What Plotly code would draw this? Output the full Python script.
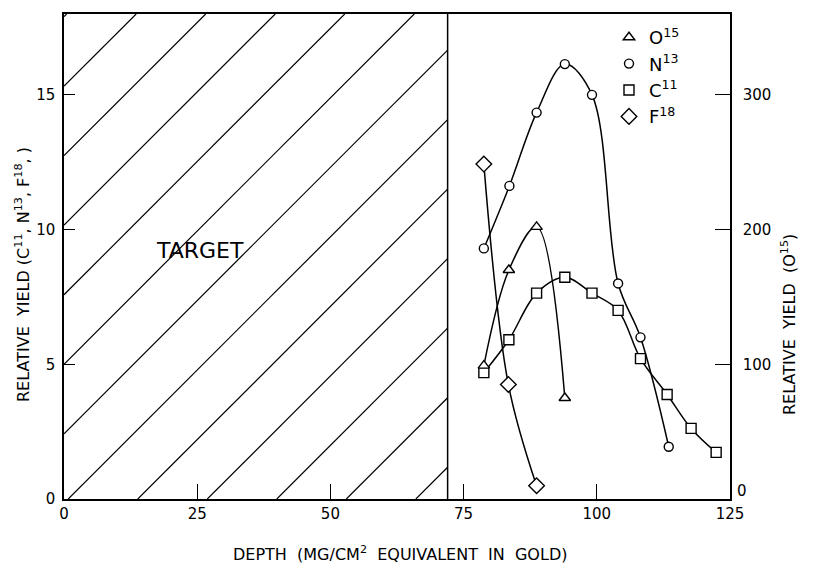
import plotly.graph_objects as go

# ---- data ----
o15_x = [78.8, 83.5, 88.7, 94.0]
o15_y = [99, 170, 202, 75]

n13_x = [78.8, 83.6, 88.7, 94.0, 99.1, 104.0, 108.2, 113.5]
n13_y = [9.30, 11.62, 14.34, 16.14, 15.0, 8.0, 6.0, 1.94]

c11_x = [78.8, 83.5, 88.7, 94.0, 99.1, 104.0, 108.2, 113.2, 117.7, 122.4]
c11_y = [4.69, 5.91, 7.64, 8.23, 7.64, 7.0, 5.21, 3.88, 2.62, 1.73]

f18_x = [78.8, 83.4, 88.7]
f18_y = [12.43, 4.25, 0.49]

x_ticks = [0, 25, 50, 75, 100, 125]
y_ticks = [0, 5, 10, 15]
y2_ticks = [100, 200, 300]
y2_zero_label = "0"
x_range = [0, 125]
y_range = [0, 18]
y2_range = [0, 360]
target_end = 72

FONT = "DejaVu Sans"
W, H = 816, 579
ML, MR, MT, MB = 64, 86, 14, 80
plot_w = W - ML - MR
plot_h = H - MT - MB


def px_to_paper(px, py):
    return (px - ML) / plot_w, (H - MB - py) / plot_h


fig = go.Figure()


def add_series(xs, ys, symbol, size, yaxis="y"):
    fig.add_trace(go.Scatter(
        x=xs, y=ys, mode="lines+markers", yaxis=yaxis, showlegend=False,
        line=dict(color="black", width=1.5, shape="spline", smoothing=1.0),
        marker=dict(symbol=symbol, size=size, color="white",
                    line=dict(color="black", width=1.4)),
        cliponaxis=False,
    ))


add_series(o15_x, o15_y, "triangle-up", 10, "y2")
add_series(n13_x, n13_y, "circle", 9)
add_series(c11_x, c11_y, "square", 10)
add_series(f18_x, f18_y, "diamond", 12)

# legend-only entries
for name, sym, sz in [("O<sup>15</sup>", "triangle-up", 10),
                      ("N<sup>13</sup>", "circle", 9),
                      ("C<sup>11</sup>", "square", 10),
                      ("F<sup>18</sup>", "diamond", 12)]:
    fig.add_trace(go.Scatter(
        x=[None], y=[None], mode="markers", name=name,
        marker=dict(symbol=sym, size=sz, color="white",
                    line=dict(color="black", width=1.4)),
    ))

# ---- target hatching (45 degree lines in pixel space) ----
px_per_x = plot_w / (x_range[1] - x_range[0])
px_per_y = plot_h / (y_range[1] - y_range[0])
m = px_per_x / px_per_y
spacing = 2.58
x0off = 0.8
shapes = []
for k in range(-8, 10):
    c = spacing * k - m * x0off  # y = m*x + c
    pts = []
    for xv in (0, target_end):
        yv = m * xv + c
        if y_range[0] <= yv <= y_range[1]:
            pts.append((xv, yv))
    for yv in (y_range[0], y_range[1]):
        xv = (yv - c) / m
        if 0 <= xv <= target_end:
            pts.append((xv, yv))
    pts = sorted(set(pts))
    if len(pts) >= 2:
        (xa, ya), (xb, yb) = pts[0], pts[-1]
        if abs(xa - xb) > 1e-6:
            shapes.append(dict(type="line", xref="x", yref="y", x0=xa, y0=ya,
                               x1=xb, y1=yb, line=dict(color="black", width=1.2),
                               layer="below"))
shapes.append(dict(type="line", xref="x", yref="y", x0=target_end, y0=y_range[0],
                   x1=target_end, y1=y_range[1], line=dict(color="black", width=1.5)))

axis_font = dict(family=FONT, size=15, color="black")
title_font = dict(family=FONT, size=16, color="black")

lx, ly = px_to_paper(609, 19)
xt_x, xt_y = px_to_paper(400, 553)
lt_x, lt_y = px_to_paper(22, 275)
rt_x, rt_y = px_to_paper(788, 325)
z_x, z_y = px_to_paper(742, 491)

fig.update_layout(
    width=W, height=H,
    margin=dict(l=ML, r=MR, t=MT, b=MB, pad=0),
    paper_bgcolor="white", plot_bgcolor="white",
    shapes=shapes,
    showlegend=True,
    legend=dict(x=lx, y=ly, xanchor="left", yanchor="top",
                font=dict(family=FONT, size=18, color="black"),
                bgcolor="rgba(0,0,0,0)", borderwidth=0, tracegroupgap=0),
    xaxis=dict(range=x_range, tickvals=x_ticks, ticks="inside", ticklen=15,
               tickwidth=1.3, tickcolor="black", showline=True, linecolor="black",
               linewidth=1.5, mirror=True, showgrid=False, zeroline=False,
               tickfont=axis_font),
    yaxis=dict(range=y_range, tickvals=y_ticks, ticks="inside", ticklen=11,
               tickwidth=1.3, tickcolor="black", showline=True, linecolor="black",
               linewidth=1.5, showgrid=False, zeroline=False, tickfont=axis_font,
               ticklabelstandoff=4),
    yaxis2=dict(range=y2_range, tickvals=y2_ticks, ticks="inside", ticklen=15,
                tickwidth=1.3, tickcolor="black", showline=True, linecolor="black",
                linewidth=1.5, showgrid=False, zeroline=False, overlaying="y",
                side="right", tickfont=axis_font, ticklabelstandoff=8),
    annotations=[
        dict(text="DEPTH  (MG/CM<sup>2</sup>  EQUIVALENT  IN  GOLD)", xref="paper", yref="paper",
             x=xt_x, y=xt_y, xanchor="center", yanchor="middle", showarrow=False,
             font=title_font),
        dict(text="RELATIVE  YIELD (C<sup>11</sup>, N<sup>13</sup>, F<sup>18</sup>, )",
             xref="paper", yref="paper", textangle=-90,
             x=lt_x, y=lt_y, xanchor="center", yanchor="middle", showarrow=False,
             font=title_font),
        dict(text="RELATIVE  YIELD  (O<sup>15</sup>)",
             xref="paper", yref="paper", textangle=-90,
             x=rt_x, y=rt_y, xanchor="center", yanchor="middle", showarrow=False,
             font=title_font),
        dict(text=y2_zero_label, xref="paper", yref="paper", x=z_x, y=z_y,
             xanchor="center", yanchor="middle", showarrow=False, font=axis_font),
        dict(text="TARGET", xref="x", yref="y", x=25.6, y=9.24, showarrow=False,
             xanchor="center", yanchor="middle",
             font=dict(family=FONT, size=22, color="black")),
    ],
)

fig.write_html("out.html")
